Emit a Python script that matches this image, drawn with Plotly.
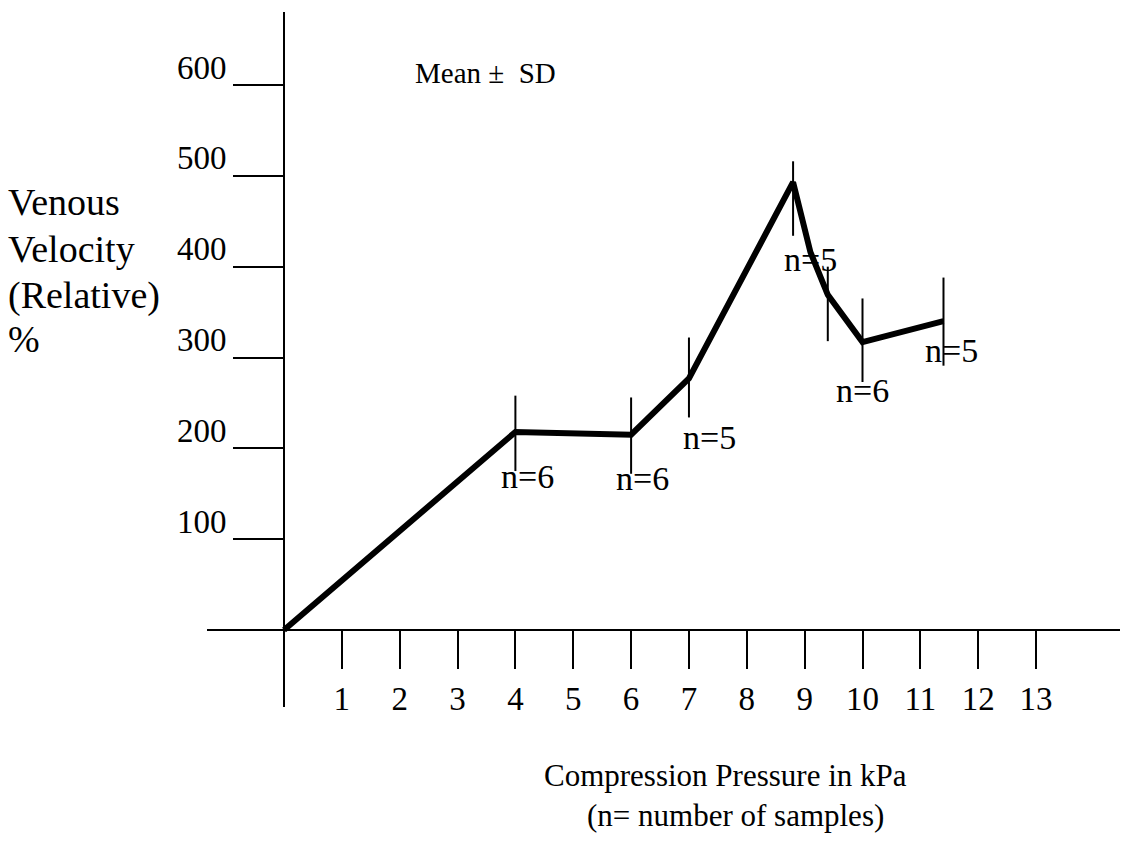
import plotly.graph_objects as go

# ---- data ----
pressure_kpa = [0, 4, 6, 7, 8.8, 9.1, 9.4, 10, 11.4]
velocity_pct = [0, 218, 215, 277, 493, 416, 369, 317, 340]
sd_plus = [0, 40, 41, 45, 23, 0, 31, 48, 48]
sd_minus = [0, 43, 43, 43, 59, 0, 51, 44, 49]

n_x = [4, 6, 7, 9.4, 10, 11.4]
n_y = [218, 215, 277, 369, 317, 340]
n_text = ["n=6", "n=6", "n=5", "n=5", "n=6", "n=5"]

x_ticks = list(range(1, 14))
y_ticks = [100, 200, 300, 400, 500, 600]

y_title_lines = ["Venous", "Velocity", "(Relative)", "%"]

# ---- layout geometry (pixels) ----
W, H = 1123, 846
L, R, T, B = 207, 1120, 12, 707          # plot area edges
X0_PX, X_UNIT = 284, 57.85               # x=0 pixel, px per kPa
Y0_PX, Y_UNIT = 630, (630 - 85) / 600    # y=0 pixel, px per %

x_range = [-(X0_PX - L) / X_UNIT, (R - X0_PX) / X_UNIT]
y_range = [-(B - Y0_PX) / Y_UNIT, (Y0_PX - T) / Y_UNIT]

def px_paper(px, py):
    return (px - L) / (R - L), (B - py) / (B - T)

label_dx = [12, 11, 21, -17, 0, 8]
label_dy = [-45, -44, -59, 35, -48, -29]

FONT = "Liberation Serif"

fig = go.Figure()
fig.add_trace(go.Scatter(
    x=pressure_kpa, y=velocity_pct, mode="lines",
    line=dict(color="black", width=6),
    error_y=dict(type="data", symmetric=False, array=sd_plus,
                 arrayminus=sd_minus, thickness=2, width=0, color="black"),
    showlegend=False, hoverinfo="skip",
))

for xv, yv, t, dx, dy in zip(n_x, n_y, n_text, label_dx, label_dy):
    fig.add_annotation(x=xv, y=yv, xref="x", yref="y", text=t, showarrow=False,
                       xshift=dx, yshift=dy,
                       font=dict(family=FONT, size=34, color="black"))

def paper_text(text, px, py, size, xanchor="center", align="center"):
    xp, yp = px_paper(px, py)
    fig.add_annotation(x=xp, y=yp, xref="paper", yref="paper", text=text,
                       showarrow=False, xanchor=xanchor, yanchor="middle",
                       align=align, font=dict(family=FONT, size=size, color="black"))

paper_text("Mean \u00b1  SD", 413, 73, 29, xanchor="left", align="left")
for line, py in zip(y_title_lines, [202, 249, 295, 339]):
    paper_text(line, 6, py, 38, xanchor="left", align="left")
paper_text("Compression Pressure in kPa", 725, 775, 31)
paper_text("(n= number of samples)", 735, 815, 31)

xpos = px_paper(X0_PX, Y0_PX)
fig.update_layout(
    width=W, height=H, autosize=False,
    margin=dict(l=L, r=W - R, t=T, b=H - B, pad=0),
    paper_bgcolor="white", plot_bgcolor="white",
    font=dict(family=FONT, color="black"),
    xaxis=dict(range=x_range, showgrid=False, zeroline=False,
               showline=True, linecolor="black", linewidth=2,
               anchor="free", position=xpos[1],
               tickmode="array", tickvals=x_ticks, ticktext=[str(v) for v in x_ticks],
               ticks="outside", ticklen=38, tickwidth=2, tickcolor="black",
               ticklabelstandoff=1,
               tickfont=dict(family=FONT, size=33, color="black")),
    yaxis=dict(range=y_range, showgrid=False, zeroline=False,
               showline=True, linecolor="black", linewidth=2,
               anchor="free", position=xpos[0],
               tickmode="array", tickvals=y_ticks, ticktext=[str(v) for v in y_ticks],
               ticks="outside", ticklen=50, tickwidth=2, tickcolor="black",
               ticklabelshift=-18,
               tickfont=dict(family=FONT, size=33, color="black")),
)

fig.write_html("out.html")
